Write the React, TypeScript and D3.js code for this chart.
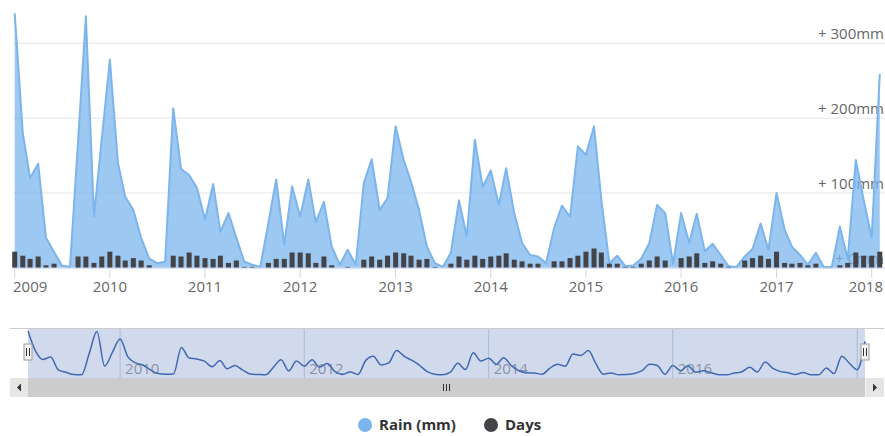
import React from 'react';
import * as d3 from 'd3';

const START_YEAR = 2009;
const START_MONTH = 0;

const rainMm = [
  340, 180, 120, 139, 40, 21, 3, 1, 168, 336,
  69, 172, 278, 140, 95, 77, 40, 12, 6, 8,
  213, 132, 124, 107, 64, 112, 48, 73, 40, 8,
  4, 1, 60, 118, 31, 109, 68, 118, 61, 88,
  28, 4, 24, 4, 113, 145, 77, 93, 189, 144,
  115, 77, 28, 6, 1, 20, 90, 42, 171, 108,
  130, 84, 133, 73, 33, 17, 15, 6, 53, 83,
  68, 162, 151, 189, 91, 6, 16, 2, 3, 12,
  33, 84, 73, 5, 73, 33, 72, 22, 32, 17,
  2, 1, 15, 25, 59, 24, 100, 51, 28, 17,
  4, 20, 1, 1, 55, 11, 144, 91, 40, 259,
];

const rainDays = [
  20, 15, 11, 14, 3, 5, 0, 0, 14, 14,
  6, 14, 20, 15, 9, 12, 9, 3, 0, 0,
  15, 14, 19, 15, 12, 11, 15, 6, 9, 1,
  1, 0, 6, 11, 11, 19, 19, 18, 6, 14,
  3, 0, 1, 0, 10, 14, 10, 15, 19, 18,
  15, 10, 11, 1, 0, 5, 14, 10, 15, 11,
  14, 15, 18, 10, 8, 5, 5, 0, 8, 8,
  12, 15, 20, 24, 19, 5, 5, 1, 1, 5,
  9, 14, 9, 0, 12, 14, 18, 6, 8, 5,
  1, 0, 9, 12, 15, 11, 20, 6, 5, 6,
  3, 5, 0, 0, 3, 6, 19, 15, 15, 20,
];

const yTickValues = [0, 100, 200, 300];
const yearTicks = [2009, 2010, 2011, 2012, 2013, 2014, 2015, 2016, 2017, 2018];
const navYearTicks = [2010, 2012, 2014, 2016, 2018];
const legendNames = ['Rain (mm)', 'Days'];
const legendColors = ['#7cb5ec', '#434348'];

const FONT = "'Open Sans', 'DejaVu Sans', sans-serif";

export default function App() {
  const months = rainMm.map((_, i) => new Date(START_YEAR, START_MONTH + i, 1));

  // main chart scales
  const x = d3
    .scaleTime()
    .domain([new Date(2009, 0, 1), new Date(2018, 0, 1)])
    .range([14.7, 871.7]);
  const y = d3.scaleLinear().domain([0, 300]).range([267.7, 43.3]);
  const yDays = d3.scaleLinear().domain([0, 20]).range([267.7, 251.7]);

  const area = d3
    .area<number>()
    .x((_, i) => x(months[i]))
    .y0(y(0))
    .y1((d) => y(d));
  const line = d3
    .line<number>()
    .x((_, i) => x(months[i]))
    .y((d) => y(d));

  // navigator scales
  const nx = d3
    .scaleTime()
    .domain([new Date(2009, 0, 1), new Date(2018, 1, 1)])
    .range([28, 865]);
  const ny = d3.scaleLinear().domain([0, 340]).range([375, 331]);
  const navLine = d3
    .line<number>()
    .x((_, i) => nx(months[i]))
    .y((d) => ny(d))
    .curve(d3.curveMonotoneX);

  const plotLeft = 13;
  const plotRight = 885;
  const barW = 5;

  const navTop = 328;
  const navBottom = 378;
  const sbTop = 378;
  const sbBottom = 397;
  const sbLeft = 10;
  const sbRight = 884;
  const btnW = 18;
  const maskL = nx(new Date(2009, 0, 1));
  const maskR = nx(new Date(2018, 1, 1));

  return (
    <svg
      width={885}
      height={436}
      style={{ position: 'absolute', left: 0, top: 0, background: '#fff' }}
      fontFamily={FONT}
    >
      <rect x={0} y={0} width={885} height={436} fill="#fff" />
      {/* grid lines */}
      {yTickValues
        .filter((v) => v > 0)
        .map((v) => (
          <line
            key={'g' + v}
            x1={plotLeft}
            x2={plotRight}
            y1={y(v)}
            y2={y(v)}
            stroke="#e6e6e6"
            strokeWidth={1}
          />
        ))}
      {/* y labels */}
      {yTickValues.map((v) => (
        <text
          key={'yl' + v}
          x={884}
          y={y(v) - 4}
          textAnchor="end"
          fontSize={15}
          fill="#666"
        >
          {`+ ${v}mm`}
        </text>
      ))}
      {/* area series */}
      <path d={area(rainMm) || ''} fill="#7cb5ec" fillOpacity={0.75} />
      <path d={line(rainMm) || ''} fill="none" stroke="#7cb5ec" strokeWidth={2} strokeLinejoin="round" />
      {/* days bars */}
      {rainDays.map((d, i) =>
        d > 0 ? (
          <rect
            key={'b' + i}
            x={x(months[i]) - barW / 2}
            y={yDays(d)}
            width={barW}
            height={yDays(0) - yDays(d)}
            fill="#434348"
          />
        ) : null
      )}
      {/* x axis */}
      <line x1={plotLeft} x2={plotRight} y1={268.2} y2={268.2} stroke="#ccd6eb" strokeWidth={1} />
      {yearTicks.map((yr, i) => {
        const tx = x(new Date(yr, 0, 1));
        let anchor: 'start' | 'middle' | 'end' = 'middle';
        let lx = tx;
        if (i === 0) {
          anchor = 'start';
          lx = 13;
        } else if (i === yearTicks.length - 1) {
          anchor = 'end';
          lx = 883;
        }
        return (
          <g key={'xt' + yr}>
            <line x1={tx} x2={tx} y1={268} y2={278} stroke="#ccd6eb" strokeWidth={1} />
            <text x={lx} y={292} textAnchor={anchor} fontSize={15} fill="#666">
              {yr}
            </text>
          </g>
        );
      })}

      {/* navigator */}
      <line x1={sbLeft} x2={sbRight} y1={navTop + 0.5} y2={navTop + 0.5} stroke="#cccccc" strokeWidth={1} />
      {navYearTicks.map((yr) => {
        const tx = nx(new Date(yr, 0, 1));
        return (
          <g key={'nt' + yr}>
            <line x1={tx} x2={tx} y1={navTop} y2={navBottom} stroke="#c8cfe0" strokeWidth={1} />
            {yr < 2018 ? (
              <text x={tx + 5} y={navBottom - 4} fontSize={15} fill="#999">
                {yr}
              </text>
            ) : null}
          </g>
        );
      })}
      <path d={navLine(rainMm) || ''} fill="none" stroke="#335cad" strokeWidth={1.5} />
      <rect
        x={maskL}
        y={navTop + 1}
        width={maskR - maskL}
        height={navBottom - navTop - 1}
        fill="rgba(102,133,194,0.3)"
      />
      {/* handles */}
      {[maskL, maskR].map((hx, i) => (
        <g key={'h' + i}>
          <rect x={hx - 4} y={344} width={8} height={16} fill="#f2f2f2" stroke="#999" strokeWidth={1} />
          <line x1={hx - 1.5} x2={hx - 1.5} y1={348} y2={356} stroke="#333" strokeWidth={1} />
          <line x1={hx + 1.5} x2={hx + 1.5} y1={348} y2={356} stroke="#333" strokeWidth={1} />
        </g>
      ))}
      {/* scrollbar */}
      <rect x={sbLeft} y={sbTop} width={sbRight - sbLeft} height={sbBottom - sbTop} fill="#f2f2f2" />
      <rect x={maskL} y={sbTop} width={maskR - maskL} height={sbBottom - sbTop} fill="#cccccc" />
      <rect x={sbLeft} y={sbTop} width={btnW} height={sbBottom - sbTop} fill="#e6e6e6" />
      <rect x={sbRight - btnW} y={sbTop} width={btnW} height={sbBottom - sbTop} fill="#e6e6e6" />
      <path
        d={`M${sbLeft + 7},${(sbTop + sbBottom) / 2} L${sbLeft + 11},${(sbTop + sbBottom) / 2 - 4} L${sbLeft + 11},${(sbTop + sbBottom) / 2 + 4} Z`}
        fill="#333"
      />
      <path
        d={`M${sbRight - 7},${(sbTop + sbBottom) / 2} L${sbRight - 11},${(sbTop + sbBottom) / 2 - 4} L${sbRight - 11},${(sbTop + sbBottom) / 2 + 4} Z`}
        fill="#333"
      />
      {[-3, 0, 3].map((o) => {
        const cx = (maskL + maskR) / 2 + o;
        return (
          <line key={'gr' + o} x1={cx} x2={cx} y1={sbTop + 6} y2={sbTop + 13} stroke="#333" strokeWidth={1} />
        );
      })}

      {/* legend */}
      {(() => {
        const positions = [365, 491];
        return legendNames.map((name, i) => (
          <g key={'lg' + i}>
            <circle cx={positions[i]} cy={425} r={7} fill={legendColors[i]} />
            <text
              x={positions[i] + 14}
              y={430}
              fontSize={15}
              fontWeight="bold"
              fill="#333"
            >
              {name}
            </text>
          </g>
        ));
      })()}
    </svg>
  );
}
